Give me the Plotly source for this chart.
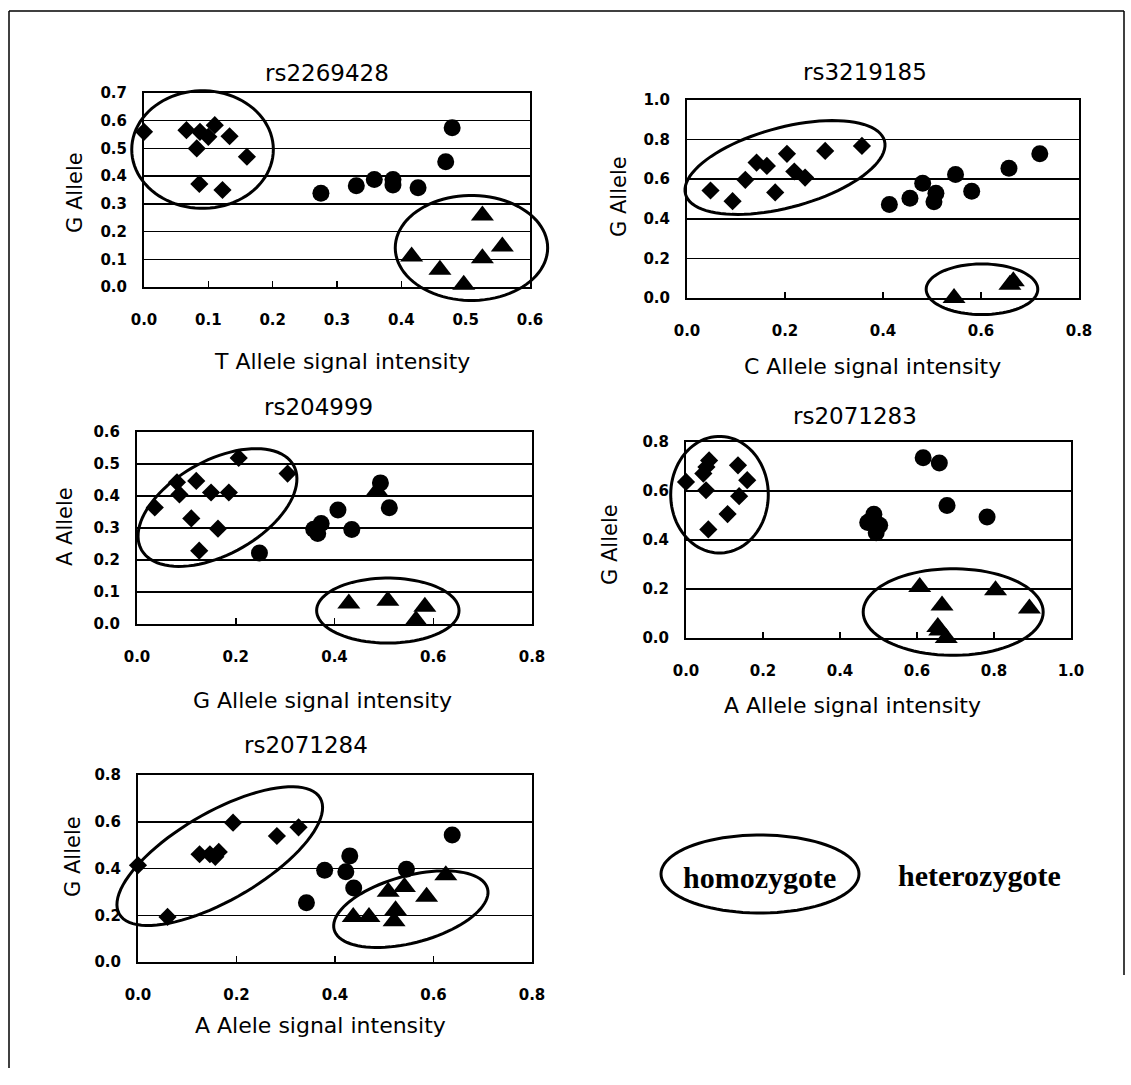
import math
import plotly.graph_objects as go

W, H = 1131, 1085

# ---------------- text ----------------
titles = ["rs2269428", "rs3219185", "rs204999", "rs2071283", "rs2071284"]
x_titles = ["T Allele signal intensity", "C Allele signal intensity",
            "G Allele signal intensity", "A Allele signal intensity",
            "A Alele signal intensity"]
y_titles = ["G Allele", "G Allele", "A Allele", "G Allele", "G Allele"]
legend_labels = ["homozygote", "heterozygote"]

# ---------------- data ----------------
# rs2269428
p1_diam_x = [0.0, 0.066, 0.087, 0.10, 0.11, 0.082, 0.133, 0.16, 0.086, 0.122]
p1_diam_y = [0.56, 0.566, 0.56, 0.542, 0.584, 0.50, 0.544, 0.47, 0.372, 0.35]
p1_circ_x = [0.275, 0.33, 0.358, 0.387, 0.387, 0.426, 0.469, 0.479]
p1_circ_y = [0.338, 0.365, 0.388, 0.388, 0.368, 0.358, 0.452, 0.575]
p1_tri_x = [0.416, 0.46, 0.497, 0.526, 0.526, 0.557]
p1_tri_y = [0.11, 0.062, 0.008, 0.258, 0.104, 0.146]

# rs3219185
p2_diam_x = [0.048, 0.093, 0.119, 0.142, 0.163, 0.18, 0.204, 0.219, 0.241, 0.282, 0.357]
p2_diam_y = [0.543, 0.489, 0.597, 0.684, 0.667, 0.533, 0.728, 0.639, 0.608, 0.743, 0.768]
p2_circ_x = [0.413, 0.455, 0.481, 0.508, 0.504, 0.548, 0.581, 0.657, 0.72]
p2_circ_y = [0.472, 0.504, 0.58, 0.529, 0.486, 0.624, 0.539, 0.655, 0.728]
p2_tri_x = [0.545, 0.659, 0.666]
p2_tri_y = [0.0, 0.067, 0.084]

# rs204999
p3_diam_x = [0.036, 0.081, 0.086, 0.12, 0.15, 0.186, 0.11, 0.164, 0.126, 0.206, 0.305]
p3_diam_y = [0.364, 0.443, 0.405, 0.447, 0.411, 0.411, 0.33, 0.298, 0.229, 0.519, 0.47]
p3_circ_x = [0.248, 0.358, 0.373, 0.366, 0.407, 0.435, 0.493, 0.511]
p3_circ_y = [0.222, 0.296, 0.314, 0.283, 0.356, 0.295, 0.441, 0.363]
p3_tri_x = [0.486, 0.429, 0.508, 0.583, 0.565]
p3_tri_y = [0.416, 0.064, 0.073, 0.054, 0.012]

# rs2071283
p4_diam_x = [0.0, 0.06, 0.053, 0.045, 0.052, 0.058, 0.108, 0.135, 0.159, 0.138]
p4_diam_y = [0.637, 0.725, 0.698, 0.671, 0.603, 0.443, 0.506, 0.705, 0.644, 0.579]
p4_circ_x = [0.616, 0.658, 0.678, 0.782, 0.472, 0.488, 0.503, 0.494, 0.48]
p4_circ_y = [0.736, 0.714, 0.541, 0.494, 0.471, 0.505, 0.46, 0.43, 0.48]
p4_tri_x = [0.607, 0.665, 0.804, 0.892, 0.654, 0.659, 0.676]
p4_tri_y = [0.208, 0.133, 0.195, 0.12, 0.045, 0.031, 0.0]

# rs2071284
p5_diam_x = [0.0, 0.06, 0.125, 0.146, 0.157, 0.164, 0.193, 0.282, 0.326]
p5_diam_y = [0.414, 0.193, 0.461, 0.461, 0.45, 0.471, 0.596, 0.539, 0.576]
p5_circ_x = [0.342, 0.379, 0.43, 0.422, 0.438, 0.545, 0.638]
p5_circ_y = [0.253, 0.393, 0.454, 0.386, 0.317, 0.397, 0.543]
p5_tri_x = [0.437, 0.469, 0.508, 0.541, 0.523, 0.52, 0.586, 0.625]
p5_tri_y = [0.193, 0.193, 0.3, 0.321, 0.221, 0.174, 0.279, 0.371]

x_ranges = [[0, 0.6], [0, 0.8], [0, 0.8], [0, 1.0], [0, 0.8]]
y_ranges = [[0, 0.7], [0, 1.0], [0, 0.6], [0, 0.8], [0, 0.8]]
x_dticks = [0.1, 0.2, 0.2, 0.2, 0.2]
y_dticks = [0.1, 0.2, 0.1, 0.2, 0.2]

panels = [
    (p1_diam_x, p1_diam_y, p1_circ_x, p1_circ_y, p1_tri_x, p1_tri_y),
    (p2_diam_x, p2_diam_y, p2_circ_x, p2_circ_y, p2_tri_x, p2_tri_y),
    (p3_diam_x, p3_diam_y, p3_circ_x, p3_circ_y, p3_tri_x, p3_tri_y),
    (p4_diam_x, p4_diam_y, p4_circ_x, p4_circ_y, p4_tri_x, p4_tri_y),
    (p5_diam_x, p5_diam_y, p5_circ_x, p5_circ_y, p5_tri_x, p5_tri_y),
]

# ---------------- layout geometry (pixels) ----------------
boxes = [(144, 93, 530, 287), (687, 100, 1079, 298), (137, 432, 532, 624),
         (686, 442, 1071, 638), (138, 775, 532, 962)]
title_pos = [(327, 73), (865, 72), (318, 407), (855, 416), (306, 745)]
xtitle_pos = [(342, 362), (872, 366), (322, 700), (852, 705), (320, 1025)]
ytitle_pos = [(75, 193), (619, 197), (65, 527), (610, 545), (73, 857)]

# group ellipses: (centre x, centre y in data units, semi-axes px, tilt deg)
ellipses = [
    [(0.091, 0.496, 70.8, 58.8, 0), (0.509, 0.141, 76.2, 52.5, 0)],
    [(0.200, 0.659, 103, 40, 15), (0.602, 0.044, 55.8, 25.3, 0)],
    [(0.163, 0.364, 87, 47, 29), (0.508, 0.042, 71.2, 32.5, 0)],
    [(0.087, 0.585, 48.8, 58.3, 0), (0.694, 0.106, 90, 43.3, 0)],
    [(0.166, 0.453, 116, 44, 30), (0.554, 0.226, 79.4, 33.5, 15)],
]

fig = go.Figure()
tick_font = dict(family="DejaVu Sans", size=15, color="black", weight="bold")
xlab_font = dict(family="DejaVu Sans", size=22, color="black")
ylab_font = dict(family="DejaVu Sans", size=21, color="black")


def px2paper(x, y):
    return x / W, 1 - y / H


def ellipse_path(cx, cy, a, b, ang, n=90):
    th = math.radians(ang)
    pts = []
    for i in range(n + 1):
        t = 2 * math.pi * i / n
        ex = cx + a * math.cos(th) * math.cos(t) - b * math.sin(th) * math.sin(t)
        ey = cy - (a * math.sin(th) * math.cos(t) + b * math.cos(th) * math.sin(t))
        px, py = px2paper(ex, ey)
        pts.append(f"{px:.5f},{py:.5f}")
    return "M" + " L".join(pts) + " Z"


shapes = []
annotations = []
layout_axes = {}

for i, (dx, dy, cx, cy, tx, ty) in enumerate(panels):
    n = "" if i == 0 else str(i + 1)
    l, t, r, btm = boxes[i]
    xd = [l / W, r / W]
    yd = [1 - btm / H, 1 - t / H]
    xa, ya = "x" + n, "y" + n
    common = dict(showline=True, linecolor="black", linewidth=2, mirror=True,
                  zeroline=False, tickfont=tick_font, tickformat=".1f",
                  automargin=False, fixedrange=True)
    layout_axes["xaxis" + n] = dict(domain=xd, range=x_ranges[i], anchor=ya,
                                   dtick=x_dticks[i], tick0=0, showgrid=False,
                                   ticks="inside", ticklen=6, tickwidth=1.5,
                                   tickcolor="black", ticklabelstandoff=18,
                                   **common)
    layout_axes["yaxis" + n] = dict(domain=yd, range=y_ranges[i], anchor=xa,
                                   dtick=y_dticks[i], tick0=0, showgrid=True,
                                   gridcolor="black", gridwidth=1.5, ticks="",
                                   ticklabelstandoff=12, **common)
    for xs, ys, sym, size in [(dx, dy, "diamond", 14), (cx, cy, "circle", 17),
                              (tx, ty, "triangle-up", 20)]:
        fig.add_trace(go.Scatter(x=xs, y=ys, mode="markers", xaxis=xa, yaxis=ya,
                                 cliponaxis=False, showlegend=False,
                                 hoverinfo="skip",
                                 marker=dict(symbol=sym, size=size, color="black",
                                             line=dict(width=0))))
    # ellipses
    for (ecx, ecy, ea, eb, eang) in ellipses[i]:
        x0, x1 = x_ranges[i]
        y0, y1 = y_ranges[i]
        pcx = l + (ecx - x0) / (x1 - x0) * (r - l)
        pcy = btm - (ecy - y0) / (y1 - y0) * (btm - t)
        shapes.append(dict(type="path", xref="paper", yref="paper",
                           path=ellipse_path(pcx, pcy, ea, eb, eang),
                           line=dict(color="black", width=3)))
    # titles
    px_, py_ = px2paper(*title_pos[i])
    annotations.append(dict(x=px_, y=py_, xref="paper", yref="paper", text=titles[i],
                            showarrow=False, xanchor="center", yanchor="middle",
                            font=dict(family="DejaVu Sans", size=23, color="black")))
    px_, py_ = px2paper(*xtitle_pos[i])
    annotations.append(dict(x=px_, y=py_, xref="paper", yref="paper", text=x_titles[i],
                            showarrow=False, xanchor="center", yanchor="middle",
                            font=xlab_font))
    px_, py_ = px2paper(*ytitle_pos[i])
    annotations.append(dict(x=px_, y=py_, xref="paper", yref="paper", text=y_titles[i],
                            showarrow=False, xanchor="center", yanchor="middle",
                            textangle=-90, font=ylab_font))

# legend-like key
shapes.append(dict(type="path", xref="paper", yref="paper",
                   path=ellipse_path(760, 874, 99, 39, 0),
                   line=dict(color="black", width=3)))
for (lx, ly), txt in zip([(760, 877), (979, 875)], legend_labels):
    px_, py_ = px2paper(lx, ly)
    annotations.append(dict(x=px_, y=py_, xref="paper", yref="paper", text=txt,
                            showarrow=False, xanchor="center", yanchor="middle",
                            font=dict(family="Liberation Serif", size=30,
                                      color="black", weight="bold")))

# outer frame (left, top, right)
for (a, b_, c, d) in [(9, 11, 9, 1068), (9, 11, 1124, 11), (1124, 11, 1124, 975)]:
    x0, y0 = px2paper(a, b_)
    x1, y1 = px2paper(c, d)
    shapes.append(dict(type="line", xref="paper", yref="paper", x0=x0, y0=y0,
                       x1=x1, y1=y1, line=dict(color="black", width=1.5)))

fig.update_layout(width=W, height=H, margin=dict(l=0, r=0, t=0, b=0, pad=0,
                                                 autoexpand=False),
                  paper_bgcolor="white", plot_bgcolor="white",
                  shapes=shapes, annotations=annotations, showlegend=False,
                  hovermode=False, **layout_axes)

fig.write_html("out.html", config={"displayModeBar": False, "staticPlot": True},
               post_script="document.body.style.margin='0px';"
                           "document.body.style.overflow='hidden';")
